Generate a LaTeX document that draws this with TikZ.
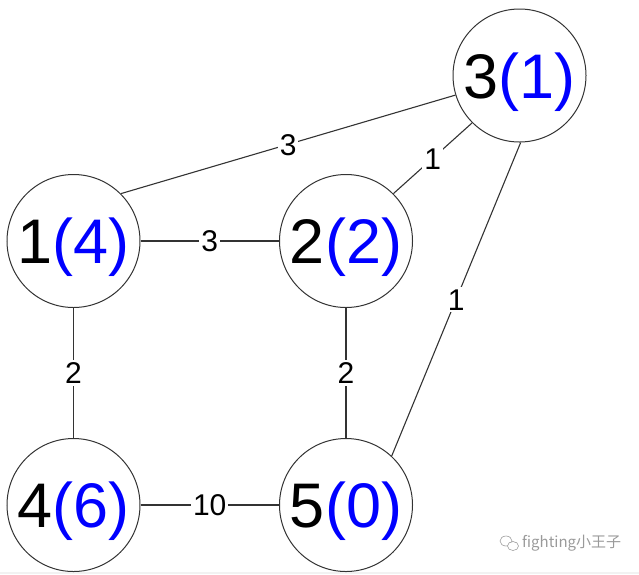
\documentclass[tikz,border=0pt]{standalone}
\usepackage{fontspec}
\setmainfont{Liberation Sans}
\newfontfamily\cjkfont{Noto Sans CJK SC}
\usepackage{tikz}
\definecolor{markgrey}{HTML}{9A9A9A}
\definecolor{stripgrey}{HTML}{F2F2F2}
\begin{document}
\begin{tikzpicture}[x=1pt,y=-1pt,
  vtx/.style={draw=black!80,line width=1pt,circle,minimum size=133pt,inner sep=0pt,
              font=\fontsize{63}{63}\selectfont,text height=45pt,text depth=0pt},
  wt/.style={fill=white,inner sep=2pt,font=\fontsize{30}{30}\selectfont,
             text height=21.5pt,text depth=0pt},
  edge/.style={draw=black!80,line width=1.1pt}]
\useasboundingbox (0,0) rectangle (639,574);
\fill[stripgrey] (0,572) rectangle (639,574);

% vertices: id (distance)
\node[vtx] (n1) at (73.5,241)  {1\textcolor{blue}{(4)}};
\node[vtx] (n2) at (346,241)   {2\textcolor{blue}{(2)}};
\node[vtx] (n3) at (519.5,75.5){3\textcolor{blue}{(1)}};
\node[vtx] (n4) at (73.5,505)  {4\textcolor{blue}{(6)}};
\node[vtx] (n5) at (346,505)   {5\textcolor{blue}{(0)}};

% weighted edges
\draw[edge] (n1.45) -- node[wt]{3} (n3.197);
\draw[edge] (n2.45) -- node[wt]{1} (n3.225);
\draw[edge] (n3.-89) -- node[wt]{1} (n5.47);
\draw[edge] (n1.east) -- node[wt]{3} (n2.west);
\draw[edge] (n1.south) -- node[wt]{2} (n4.north);
\draw[edge] (n2.south) -- node[wt]{2} (n5.north);
\draw[edge] (n4.east) -- node[wt]{10} (n5.west);

% watermark
\draw[markgrey,line width=0.6pt] (506,541) ellipse (6pt and 5pt);
\draw[markgrey,line width=0.6pt,fill=white] (513,546) ellipse (5.5pt and 4.5pt);
\node[text=markgrey,anchor=west,inner sep=0pt,font=\cjkfont\fontsize{15}{15}\selectfont]
  (wm) at (522,543) {fighting小王子};
\end{tikzpicture}
\end{document}
